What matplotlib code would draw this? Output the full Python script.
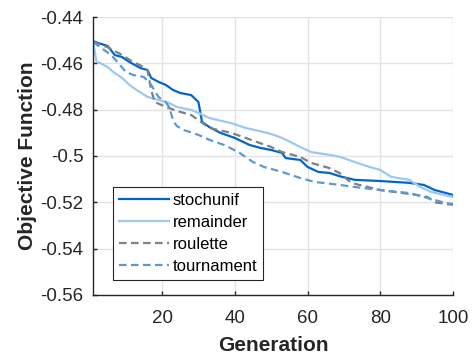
import matplotlib
matplotlib.use("Agg")
import matplotlib.pyplot as plt

# Best objective value per generation for each selection function
stoch_gen = [1, 2, 5, 7, 9, 11, 14, 16, 17, 19, 21, 23, 25, 28, 30, 31, 33, 36, 40, 44, 47, 50, 53, 54, 58, 60, 63, 66, 69, 73, 80, 88, 92, 95, 100]
stoch_val = [-0.4504, -0.4510, -0.4525, -0.4564, -0.4573, -0.4594, -0.4620, -0.4629, -0.4663, -0.4680,
             -0.4693, -0.4715, -0.4728, -0.4737, -0.4767, -0.4853, -0.4875, -0.4900, -0.4922, -0.4952,
             -0.4965, -0.4974, -0.4987, -0.5009, -0.5017, -0.5047, -0.5069, -0.5073, -0.5088, -0.5103,
             -0.5108, -0.5116, -0.5125, -0.5147, -0.5168]

rem_gen = [1, 2, 3, 5, 7, 9, 11, 13, 16, 19, 22, 24, 28, 30, 33, 39, 43, 47, 50, 53, 58, 61, 66, 69, 73, 77, 80, 83, 88, 91, 94, 100]
rem_val = [-0.4508, -0.4594, -0.4599, -0.4616, -0.4642, -0.4663, -0.4693, -0.4715, -0.4745, -0.4758,
           -0.4771, -0.4788, -0.4801, -0.4814, -0.4836, -0.4858, -0.4879, -0.4893, -0.4905, -0.4922,
           -0.4961, -0.4983, -0.4995, -0.5004, -0.5026, -0.5047, -0.5060, -0.5090, -0.5103, -0.5134,
           -0.5155, -0.5177]

rou_gen = [1, 5, 9, 12, 15, 16, 17, 18, 21, 24, 28, 30, 33, 39, 43, 46, 50, 53, 58, 61, 66, 69, 72, 80, 90, 93, 95, 100]
rou_val = [-0.4508, -0.4530, -0.4564, -0.4594, -0.4616, -0.4630, -0.4715, -0.4767, -0.4788, -0.4805,
           -0.4823, -0.4845, -0.4879, -0.4900, -0.4922, -0.4939, -0.4961, -0.4983, -0.5004, -0.5030,
           -0.5052, -0.5075, -0.5116, -0.5147, -0.5168, -0.5177, -0.5200, -0.5211]

tou_gen = [1, 4, 6, 8, 10, 12, 15, 17, 19, 21, 22, 23, 24, 26, 30, 33, 37, 41, 45, 48, 53, 58, 62, 69, 73, 80, 88, 92, 95, 98, 100]
tou_val = [-0.4508, -0.4542, -0.4564, -0.4599, -0.4637, -0.4650, -0.4659, -0.4693, -0.4745, -0.4767,
           -0.4790, -0.4845, -0.4870, -0.4888, -0.4909, -0.4930, -0.4952, -0.4983, -0.5026, -0.5047,
           -0.5069, -0.5095, -0.5112, -0.5125, -0.5134, -0.5147, -0.5160, -0.5177, -0.5190, -0.5203,
           -0.5207]

series_labels = ["stochunif", "remainder", "roulette", "tournament"]
x_ticks = [20, 40, 60, 80, 100]
y_ticks = [-0.44, -0.46, -0.48, -0.50, -0.52, -0.54, -0.56]
y_tick_labels = ["-0.44", "-0.46", "-0.48", "-0.5", "-0.52", "-0.54", "-0.56"]

plt.rcParams["font.family"] = ["Liberation Sans", "DejaVu Sans"]

fig = plt.figure(figsize=(4.73, 3.58), dpi=100)
ax = fig.add_axes([0.1966, 0.176, 0.761, 0.7765])

lw = 1.6
ax.plot(stoch_gen, stoch_val, color="#0066CC", lw=lw, label=series_labels[0])
ax.plot(rem_gen, rem_val, color="#9DC9EE", lw=lw, label=series_labels[1])
ax.plot(rou_gen, rou_val, color="#808080", lw=lw, ls=(0, (3.4, 2.0)), label=series_labels[2])
ax.plot(tou_gen, tou_val, color="#5B9BD2", lw=lw, ls=(0, (3.4, 2.0)), label=series_labels[3])

ax.set_xlim(1, 100)
ax.set_ylim(-0.56, -0.44)
ax.set_xticks(x_ticks)
ax.set_yticks(y_ticks)
ax.set_yticklabels(y_tick_labels)

ax.grid(True, color="#e3e3e3", lw=1.0)
ax.set_axisbelow(True)
for side in ("top", "right"):
    ax.spines[side].set_visible(False)
for side in ("left", "bottom"):
    ax.spines[side].set_color("#262626")
    ax.spines[side].set_linewidth(1.0)

ax.tick_params(direction="in", length=3, width=1.0, colors="#262626",
               labelsize=13.5, labelcolor="#262626")
ax.tick_params(axis="x", pad=11)
ax.tick_params(axis="y", pad=7)

ax.set_xlabel("Generation", fontsize=15, fontweight="bold", color="#262626", labelpad=6)
ax.set_ylabel("Objective Function", fontsize=15, fontweight="bold", color="#262626", labelpad=2)

leg = ax.legend(loc="lower left", bbox_to_anchor=(0.0556, 0.054), borderaxespad=0,
                fontsize=12, handlelength=3.0, handletextpad=0.25, labelspacing=0.42,
                borderpad=0.35, fancybox=False, framealpha=1.0, edgecolor="#262626")
leg.get_frame().set_linewidth(0.8)

fig.savefig("out.png", dpi=100)
